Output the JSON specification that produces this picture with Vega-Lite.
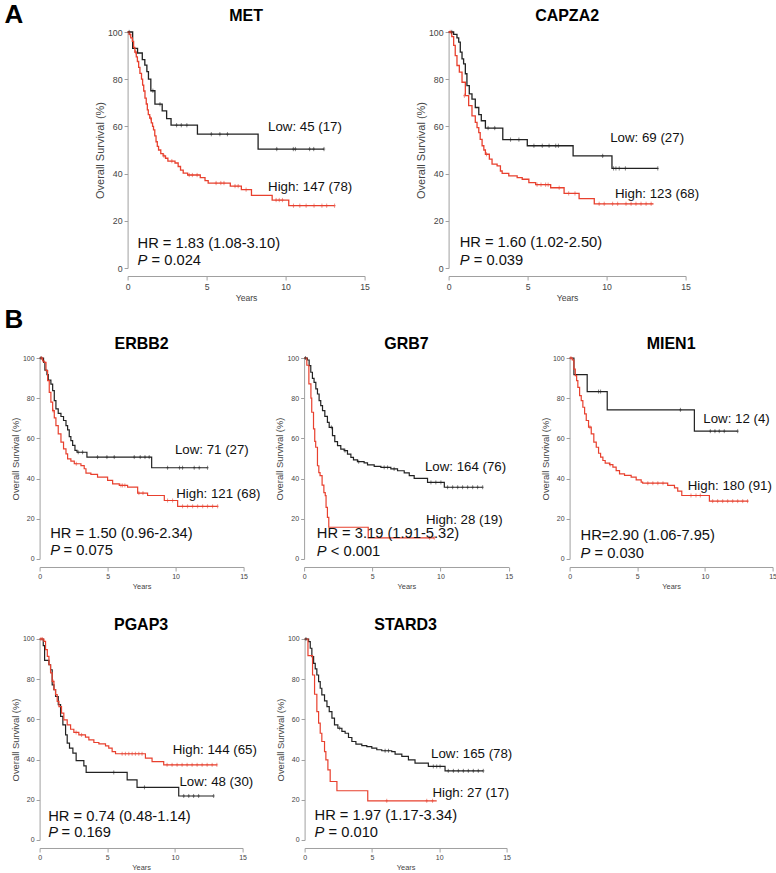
{
"$schema":"https://vega.github.io/schema/vega-lite/v6.json",
"padding":{"left":3.6,"top":2,"right":0,"bottom":0},
"config":{"font":"Liberation Sans","view":{"stroke":null},
"axis":{"grid":false,"domainColor":"#a0a0a0","tickColor":"#a0a0a0","labelColor":"#444","titleColor":"#444","titleFontWeight":"normal","tickSize":4,"labelPadding":2,"labelFlush":false,"labelOverlap":false,"domainWidth":1,"tickWidth":1},
"title":{"fontSize":16,"fontWeight":"bold","color":"#000"}},
"datasets":{
"km":[
{"p":"MET","g":"Low","t":0,"s":100},{"p":"MET","g":"Low","t":0.32,"s":93.1},{"p":"MET","g":"Low","t":0.63,"s":91.1},{"p":"MET","g":"Low","t":0.93,"s":88.3},{"p":"MET","g":"Low","t":1.09,"s":86},{"p":"MET","g":"Low","t":1.22,"s":83.2},{"p":"MET","g":"Low","t":1.32,"s":80},{"p":"MET","g":"Low","t":1.47,"s":75.1},{"p":"MET","g":"Low","t":1.73,"s":69.4},{"p":"MET","g":"Low","t":2.19,"s":66.6},{"p":"MET","g":"Low","t":2.47,"s":63.3},{"p":"MET","g":"Low","t":2.75,"s":60.5},{"p":"MET","g":"Low","t":4.42,"s":56.7},{"p":"MET","g":"Low","t":8.26,"s":50.4},{"p":"MET","g":"Low","t":12.43,"s":50.4},
{"p":"MET","g":"High","t":0,"s":100},{"p":"MET","g":"High","t":0.1,"s":99},{"p":"MET","g":"High","t":0.2,"s":97.5},{"p":"MET","g":"High","t":0.3,"s":96},{"p":"MET","g":"High","t":0.38,"s":93.5},{"p":"MET","g":"High","t":0.46,"s":91.5},{"p":"MET","g":"High","t":0.55,"s":89.5},{"p":"MET","g":"High","t":0.62,"s":87.5},{"p":"MET","g":"High","t":0.7,"s":85},{"p":"MET","g":"High","t":0.78,"s":82.5},{"p":"MET","g":"High","t":0.88,"s":80},{"p":"MET","g":"High","t":0.95,"s":77.5},{"p":"MET","g":"High","t":1.02,"s":75},{"p":"MET","g":"High","t":1.1,"s":72},{"p":"MET","g":"High","t":1.18,"s":69.5},{"p":"MET","g":"High","t":1.25,"s":67},{"p":"MET","g":"High","t":1.31,"s":65},{"p":"MET","g":"High","t":1.4,"s":63.5},{"p":"MET","g":"High","t":1.5,"s":61.5},{"p":"MET","g":"High","t":1.58,"s":60},{"p":"MET","g":"High","t":1.64,"s":58.5},{"p":"MET","g":"High","t":1.72,"s":56},{"p":"MET","g":"High","t":1.8,"s":53.5},{"p":"MET","g":"High","t":1.88,"s":51.5},{"p":"MET","g":"High","t":1.96,"s":50},{"p":"MET","g":"High","t":2.1,"s":48.5},{"p":"MET","g":"High","t":2.25,"s":47.5},{"p":"MET","g":"High","t":2.4,"s":46.5},{"p":"MET","g":"High","t":2.55,"s":45.3},{"p":"MET","g":"High","t":3.0,"s":44.5},{"p":"MET","g":"High","t":3.2,"s":43},{"p":"MET","g":"High","t":3.35,"s":41.5},{"p":"MET","g":"High","t":3.52,"s":40.2},{"p":"MET","g":"High","t":3.8,"s":39.4},{"p":"MET","g":"High","t":4.6,"s":38.3},{"p":"MET","g":"High","t":4.9,"s":37},{"p":"MET","g":"High","t":5.1,"s":36},{"p":"MET","g":"High","t":6.5,"s":34.7},{"p":"MET","g":"High","t":7.2,"s":33.2},{"p":"MET","g":"High","t":7.84,"s":30.8},{"p":"MET","g":"High","t":9.15,"s":28.8},{"p":"MET","g":"High","t":10.2,"s":26.4},{"p":"MET","g":"High","t":13.1,"s":26.4},
{"p":"CAPZA2","g":"Low","t":0,"s":100},{"p":"CAPZA2","g":"Low","t":0.32,"s":99},{"p":"CAPZA2","g":"Low","t":0.53,"s":97.5},{"p":"CAPZA2","g":"Low","t":0.64,"s":95.7},{"p":"CAPZA2","g":"Low","t":0.74,"s":91.5},{"p":"CAPZA2","g":"Low","t":0.85,"s":88.6},{"p":"CAPZA2","g":"Low","t":0.95,"s":86.5},{"p":"CAPZA2","g":"Low","t":1.06,"s":82.3},{"p":"CAPZA2","g":"Low","t":1.16,"s":77.3},{"p":"CAPZA2","g":"Low","t":1.31,"s":73.8},{"p":"CAPZA2","g":"Low","t":1.48,"s":71.6},{"p":"CAPZA2","g":"Low","t":1.69,"s":68},{"p":"CAPZA2","g":"Low","t":1.91,"s":65},{"p":"CAPZA2","g":"Low","t":2.07,"s":62.4},{"p":"CAPZA2","g":"Low","t":2.33,"s":59.3},{"p":"CAPZA2","g":"Low","t":3.43,"s":54.4},{"p":"CAPZA2","g":"Low","t":4.98,"s":51.8},{"p":"CAPZA2","g":"Low","t":7.88,"s":47.5},{"p":"CAPZA2","g":"Low","t":10.34,"s":42.2},{"p":"CAPZA2","g":"Low","t":13.24,"s":42.2},
{"p":"CAPZA2","g":"High","t":0,"s":100},{"p":"CAPZA2","g":"High","t":0.2,"s":98},{"p":"CAPZA2","g":"High","t":0.32,"s":94.3},{"p":"CAPZA2","g":"High","t":0.42,"s":90},{"p":"CAPZA2","g":"High","t":0.53,"s":85.8},{"p":"CAPZA2","g":"High","t":0.68,"s":83},{"p":"CAPZA2","g":"High","t":0.85,"s":78.7},{"p":"CAPZA2","g":"High","t":1.06,"s":73},{"p":"CAPZA2","g":"High","t":1.27,"s":68.8},{"p":"CAPZA2","g":"High","t":1.48,"s":64.5},{"p":"CAPZA2","g":"High","t":1.69,"s":61.7},{"p":"CAPZA2","g":"High","t":1.8,"s":59.5},{"p":"CAPZA2","g":"High","t":1.91,"s":57.4},{"p":"CAPZA2","g":"High","t":2.0,"s":54.5},{"p":"CAPZA2","g":"High","t":2.12,"s":51.8},{"p":"CAPZA2","g":"High","t":2.23,"s":50},{"p":"CAPZA2","g":"High","t":2.33,"s":48.2},{"p":"CAPZA2","g":"High","t":2.58,"s":46.1},{"p":"CAPZA2","g":"High","t":2.75,"s":44},{"p":"CAPZA2","g":"High","t":3.07,"s":43.3},{"p":"CAPZA2","g":"High","t":3.28,"s":41.1},{"p":"CAPZA2","g":"High","t":3.39,"s":40.1},{"p":"CAPZA2","g":"High","t":3.81,"s":39},{"p":"CAPZA2","g":"High","t":4.34,"s":38.3},{"p":"CAPZA2","g":"High","t":4.66,"s":37.6},{"p":"CAPZA2","g":"High","t":5.08,"s":36.2},{"p":"CAPZA2","g":"High","t":5.51,"s":35.3},{"p":"CAPZA2","g":"High","t":6.46,"s":34},{"p":"CAPZA2","g":"High","t":7.31,"s":31.6},{"p":"CAPZA2","g":"High","t":8.26,"s":29.4},{"p":"CAPZA2","g":"High","t":9.22,"s":27.2},{"p":"CAPZA2","g":"High","t":12.97,"s":27.2},
{"p":"ERBB2","g":"Low","t":0,"s":100},{"p":"ERBB2","g":"Low","t":0.29,"s":97.8},{"p":"ERBB2","g":"Low","t":0.39,"s":94},{"p":"ERBB2","g":"Low","t":0.54,"s":91.7},{"p":"ERBB2","g":"Low","t":0.64,"s":89},{"p":"ERBB2","g":"Low","t":0.83,"s":87},{"p":"ERBB2","g":"Low","t":0.96,"s":83.8},{"p":"ERBB2","g":"Low","t":1.08,"s":78.8},{"p":"ERBB2","g":"Low","t":1.2,"s":74.7},{"p":"ERBB2","g":"Low","t":1.37,"s":72.5},{"p":"ERBB2","g":"Low","t":1.57,"s":70.9},{"p":"ERBB2","g":"Low","t":1.76,"s":68.9},{"p":"ERBB2","g":"Low","t":1.94,"s":66.4},{"p":"ERBB2","g":"Low","t":2.06,"s":64.2},{"p":"ERBB2","g":"Low","t":2.18,"s":60.9},{"p":"ERBB2","g":"Low","t":2.3,"s":58.9},{"p":"ERBB2","g":"Low","t":2.43,"s":56.5},{"p":"ERBB2","g":"Low","t":2.6,"s":54},{"p":"ERBB2","g":"Low","t":2.75,"s":53.1},{"p":"ERBB2","g":"Low","t":3.48,"s":50.7},{"p":"ERBB2","g":"Low","t":8.24,"s":45.4},{"p":"ERBB2","g":"Low","t":12.35,"s":45.4},
{"p":"ERBB2","g":"High","t":0,"s":100},{"p":"ERBB2","g":"High","t":0.22,"s":98.5},{"p":"ERBB2","g":"High","t":0.34,"s":97.8},{"p":"ERBB2","g":"High","t":0.47,"s":93.7},{"p":"ERBB2","g":"High","t":0.59,"s":88.7},{"p":"ERBB2","g":"High","t":0.71,"s":82.9},{"p":"ERBB2","g":"High","t":0.83,"s":78},{"p":"ERBB2","g":"High","t":0.96,"s":73.8},{"p":"ERBB2","g":"High","t":1.08,"s":70.2},{"p":"ERBB2","g":"High","t":1.2,"s":66.4},{"p":"ERBB2","g":"High","t":1.37,"s":62.3},{"p":"ERBB2","g":"High","t":1.57,"s":58.1},{"p":"ERBB2","g":"High","t":1.76,"s":54.8},{"p":"ERBB2","g":"High","t":1.94,"s":52.3},{"p":"ERBB2","g":"High","t":2.06,"s":49.8},{"p":"ERBB2","g":"High","t":2.3,"s":48.7},{"p":"ERBB2","g":"High","t":2.55,"s":47.4},{"p":"ERBB2","g":"High","t":3.04,"s":46.5},{"p":"ERBB2","g":"High","t":3.28,"s":44.9},{"p":"ERBB2","g":"High","t":3.41,"s":42.7},{"p":"ERBB2","g":"High","t":3.77,"s":42.1},{"p":"ERBB2","g":"High","t":4.26,"s":40.7},{"p":"ERBB2","g":"High","t":5.0,"s":39.1},{"p":"ERBB2","g":"High","t":5.37,"s":37.4},{"p":"ERBB2","g":"High","t":5.86,"s":36.6},{"p":"ERBB2","g":"High","t":6.47,"s":35.8},{"p":"ERBB2","g":"High","t":7.21,"s":32.8},{"p":"ERBB2","g":"High","t":7.94,"s":31.6},{"p":"ERBB2","g":"High","t":9.17,"s":29.1},{"p":"ERBB2","g":"High","t":10.15,"s":26.2},{"p":"ERBB2","g":"High","t":13.09,"s":26.2},
{"p":"GRB7","g":"Low","t":0,"s":100},{"p":"GRB7","g":"Low","t":0.24,"s":99},{"p":"GRB7","g":"Low","t":0.37,"s":96.2},{"p":"GRB7","g":"Low","t":0.49,"s":92.9},{"p":"GRB7","g":"Low","t":0.61,"s":89.9},{"p":"GRB7","g":"Low","t":0.73,"s":87.9},{"p":"GRB7","g":"Low","t":0.86,"s":84.6},{"p":"GRB7","g":"Low","t":0.98,"s":82.1},{"p":"GRB7","g":"Low","t":1.1,"s":78.8},{"p":"GRB7","g":"Low","t":1.22,"s":76.3},{"p":"GRB7","g":"Low","t":1.35,"s":73.8},{"p":"GRB7","g":"Low","t":1.52,"s":71},{"p":"GRB7","g":"Low","t":1.71,"s":68},{"p":"GRB7","g":"Low","t":1.84,"s":65.5},{"p":"GRB7","g":"Low","t":2.08,"s":61.4},{"p":"GRB7","g":"Low","t":2.25,"s":58.4},{"p":"GRB7","g":"Low","t":2.45,"s":56.4},{"p":"GRB7","g":"Low","t":2.69,"s":54.7},{"p":"GRB7","g":"Low","t":2.94,"s":53.9},{"p":"GRB7","g":"Low","t":3.18,"s":52.2},{"p":"GRB7","g":"Low","t":3.43,"s":50.6},{"p":"GRB7","g":"Low","t":3.62,"s":49.3},{"p":"GRB7","g":"Low","t":3.91,"s":48.4},{"p":"GRB7","g":"Low","t":4.4,"s":47.8},{"p":"GRB7","g":"Low","t":4.65,"s":46.8},{"p":"GRB7","g":"Low","t":5.14,"s":46.1},{"p":"GRB7","g":"Low","t":5.63,"s":45.6},{"p":"GRB7","g":"Low","t":6.36,"s":44.8},{"p":"GRB7","g":"Low","t":6.85,"s":43.9},{"p":"GRB7","g":"Low","t":7.34,"s":42.8},{"p":"GRB7","g":"Low","t":7.71,"s":41.5},{"p":"GRB7","g":"Low","t":8.07,"s":40.1},{"p":"GRB7","g":"Low","t":9.05,"s":38.1},{"p":"GRB7","g":"Low","t":10.28,"s":35.7},{"p":"GRB7","g":"Low","t":13.09,"s":35.7},
{"p":"GRB7","g":"High","t":0,"s":100},{"p":"GRB7","g":"High","t":0.2,"s":96.4},{"p":"GRB7","g":"High","t":0.35,"s":87.1},{"p":"GRB7","g":"High","t":0.5,"s":80},{"p":"GRB7","g":"High","t":0.56,"s":73},{"p":"GRB7","g":"High","t":0.69,"s":64.7},{"p":"GRB7","g":"High","t":0.78,"s":58.5},{"p":"GRB7","g":"High","t":0.85,"s":55.6},{"p":"GRB7","g":"High","t":0.98,"s":46.4},{"p":"GRB7","g":"High","t":1.08,"s":43},{"p":"GRB7","g":"High","t":1.17,"s":41.5},{"p":"GRB7","g":"High","t":1.32,"s":36.8},{"p":"GRB7","g":"High","t":1.45,"s":33},{"p":"GRB7","g":"High","t":1.55,"s":31.5},{"p":"GRB7","g":"High","t":1.61,"s":25.7},{"p":"GRB7","g":"High","t":1.71,"s":20.7},{"p":"GRB7","g":"High","t":1.81,"s":15.8},{"p":"GRB7","g":"High","t":4.7,"s":10.5},{"p":"GRB7","g":"High","t":9.54,"s":10.5},
{"p":"MIEN1","g":"Low","t":0,"s":100},{"p":"MIEN1","g":"Low","t":0.32,"s":91.7},{"p":"MIEN1","g":"Low","t":1.3,"s":83.3},{"p":"MIEN1","g":"Low","t":2.78,"s":74.2},{"p":"MIEN1","g":"Low","t":9.22,"s":63.6},{"p":"MIEN1","g":"Low","t":12.42,"s":63.6},
{"p":"MIEN1","g":"High","t":0,"s":100},{"p":"MIEN1","g":"High","t":0.2,"s":99},{"p":"MIEN1","g":"High","t":0.32,"s":94.5},{"p":"MIEN1","g":"High","t":0.42,"s":91.2},{"p":"MIEN1","g":"High","t":0.52,"s":88.7},{"p":"MIEN1","g":"High","t":0.61,"s":85.4},{"p":"MIEN1","g":"High","t":0.74,"s":81.3},{"p":"MIEN1","g":"High","t":0.86,"s":78.8},{"p":"MIEN1","g":"High","t":0.98,"s":75.5},{"p":"MIEN1","g":"High","t":1.11,"s":72.2},{"p":"MIEN1","g":"High","t":1.23,"s":68.9},{"p":"MIEN1","g":"High","t":1.4,"s":65.6},{"p":"MIEN1","g":"High","t":1.6,"s":62.3},{"p":"MIEN1","g":"High","t":1.79,"s":58.1},{"p":"MIEN1","g":"High","t":1.97,"s":55.6},{"p":"MIEN1","g":"High","t":2.14,"s":52.6},{"p":"MIEN1","g":"High","t":2.29,"s":50.7},{"p":"MIEN1","g":"High","t":2.46,"s":49},{"p":"MIEN1","g":"High","t":2.63,"s":47.7},{"p":"MIEN1","g":"High","t":2.95,"s":47},{"p":"MIEN1","g":"High","t":3.2,"s":45.7},{"p":"MIEN1","g":"High","t":3.44,"s":44},{"p":"MIEN1","g":"High","t":3.69,"s":42.4},{"p":"MIEN1","g":"High","t":4.06,"s":41.6},{"p":"MIEN1","g":"High","t":4.55,"s":40.7},{"p":"MIEN1","g":"High","t":4.92,"s":39.4},{"p":"MIEN1","g":"High","t":5.29,"s":38.2},{"p":"MIEN1","g":"High","t":5.4,"s":37.7},{"p":"MIEN1","g":"High","t":7.25,"s":36.6},{"p":"MIEN1","g":"High","t":7.75,"s":35.4},{"p":"MIEN1","g":"High","t":7.99,"s":33.8},{"p":"MIEN1","g":"High","t":8.29,"s":31.6},{"p":"MIEN1","g":"High","t":10.33,"s":28.8},{"p":"MIEN1","g":"High","t":13.2,"s":28.8},
{"p":"PGAP3","g":"Low","t":0,"s":100},{"p":"PGAP3","g":"Low","t":0.27,"s":96.7},{"p":"PGAP3","g":"Low","t":0.37,"s":89.4},{"p":"PGAP3","g":"Low","t":0.69,"s":87.2},{"p":"PGAP3","g":"Low","t":0.81,"s":84.7},{"p":"PGAP3","g":"Low","t":0.93,"s":77.2},{"p":"PGAP3","g":"Low","t":1.06,"s":74.8},{"p":"PGAP3","g":"Low","t":1.18,"s":71.4},{"p":"PGAP3","g":"Low","t":1.38,"s":67.3},{"p":"PGAP3","g":"Low","t":1.55,"s":61.5},{"p":"PGAP3","g":"Low","t":1.72,"s":57.3},{"p":"PGAP3","g":"Low","t":1.92,"s":52.3},{"p":"PGAP3","g":"Low","t":2.04,"s":48.2},{"p":"PGAP3","g":"Low","t":2.21,"s":45.7},{"p":"PGAP3","g":"Low","t":2.46,"s":43.2},{"p":"PGAP3","g":"Low","t":2.7,"s":39.5},{"p":"PGAP3","g":"Low","t":3.27,"s":36.9},{"p":"PGAP3","g":"Low","t":3.44,"s":33.6},{"p":"PGAP3","g":"Low","t":6.47,"s":29.9},{"p":"PGAP3","g":"Low","t":7.2,"s":26.2},{"p":"PGAP3","g":"Low","t":10.28,"s":21.9},{"p":"PGAP3","g":"Low","t":12.86,"s":21.9},
{"p":"PGAP3","g":"High","t":0,"s":100},{"p":"PGAP3","g":"High","t":0.32,"s":98.8},{"p":"PGAP3","g":"High","t":0.44,"s":94.7},{"p":"PGAP3","g":"High","t":0.57,"s":91.4},{"p":"PGAP3","g":"High","t":0.69,"s":87.2},{"p":"PGAP3","g":"High","t":0.81,"s":83.1},{"p":"PGAP3","g":"High","t":0.93,"s":78.9},{"p":"PGAP3","g":"High","t":1.06,"s":74.8},{"p":"PGAP3","g":"High","t":1.18,"s":72.3},{"p":"PGAP3","g":"High","t":1.3,"s":69},{"p":"PGAP3","g":"High","t":1.43,"s":66.4},{"p":"PGAP3","g":"High","t":1.62,"s":63.1},{"p":"PGAP3","g":"High","t":1.79,"s":59.8},{"p":"PGAP3","g":"High","t":2.04,"s":57.3},{"p":"PGAP3","g":"High","t":2.29,"s":55.1},{"p":"PGAP3","g":"High","t":2.53,"s":53.5},{"p":"PGAP3","g":"High","t":2.9,"s":52.3},{"p":"PGAP3","g":"High","t":3.39,"s":51.2},{"p":"PGAP3","g":"High","t":3.64,"s":49.8},{"p":"PGAP3","g":"High","t":4.01,"s":48.5},{"p":"PGAP3","g":"High","t":4.38,"s":47.8},{"p":"PGAP3","g":"High","t":4.87,"s":46.8},{"p":"PGAP3","g":"High","t":5.11,"s":45.7},{"p":"PGAP3","g":"High","t":5.36,"s":44},{"p":"PGAP3","g":"High","t":5.61,"s":42.9},{"p":"PGAP3","g":"High","t":7.82,"s":40.7},{"p":"PGAP3","g":"High","t":8.31,"s":39},{"p":"PGAP3","g":"High","t":9.17,"s":37.4},{"p":"PGAP3","g":"High","t":13.1,"s":37.4},
{"p":"STARD3","g":"Low","t":0,"s":100},{"p":"STARD3","g":"Low","t":0.3,"s":98.7},{"p":"STARD3","g":"Low","t":0.42,"s":95.4},{"p":"STARD3","g":"Low","t":0.54,"s":91.2},{"p":"STARD3","g":"Low","t":0.67,"s":87.9},{"p":"STARD3","g":"Low","t":0.79,"s":85.1},{"p":"STARD3","g":"Low","t":0.91,"s":82.1},{"p":"STARD3","g":"Low","t":1.04,"s":78.8},{"p":"STARD3","g":"Low","t":1.16,"s":75.5},{"p":"STARD3","g":"Low","t":1.28,"s":72.2},{"p":"STARD3","g":"Low","t":1.48,"s":69.2},{"p":"STARD3","g":"Low","t":1.66,"s":66.4},{"p":"STARD3","g":"Low","t":1.83,"s":63.9},{"p":"STARD3","g":"Low","t":2.03,"s":60.6},{"p":"STARD3","g":"Low","t":2.22,"s":57.3},{"p":"STARD3","g":"Low","t":2.47,"s":55.6},{"p":"STARD3","g":"Low","t":2.77,"s":54},{"p":"STARD3","g":"Low","t":3.01,"s":53.1},{"p":"STARD3","g":"Low","t":3.26,"s":51},{"p":"STARD3","g":"Low","t":3.51,"s":49},{"p":"STARD3","g":"Low","t":3.81,"s":47.7},{"p":"STARD3","g":"Low","t":4.25,"s":47},{"p":"STARD3","g":"Low","t":4.62,"s":46.5},{"p":"STARD3","g":"Low","t":4.99,"s":45.7},{"p":"STARD3","g":"Low","t":5.36,"s":44.9},{"p":"STARD3","g":"Low","t":5.73,"s":44.4},{"p":"STARD3","g":"Low","t":6.47,"s":44},{"p":"STARD3","g":"Low","t":6.72,"s":42.7},{"p":"STARD3","g":"Low","t":7.22,"s":41.6},{"p":"STARD3","g":"Low","t":7.71,"s":39.9},{"p":"STARD3","g":"Low","t":8.2,"s":38.2},{"p":"STARD3","g":"Low","t":9.19,"s":36.6},{"p":"STARD3","g":"Low","t":10.43,"s":34.4},{"p":"STARD3","g":"Low","t":13.27,"s":34.4},
{"p":"STARD3","g":"High","t":0,"s":100},{"p":"STARD3","g":"High","t":0.25,"s":91.7},{"p":"STARD3","g":"High","t":0.59,"s":82.1},{"p":"STARD3","g":"High","t":0.74,"s":72.5},{"p":"STARD3","g":"High","t":0.91,"s":63.9},{"p":"STARD3","g":"High","t":1.04,"s":58.1},{"p":"STARD3","g":"High","t":1.16,"s":53.1},{"p":"STARD3","g":"High","t":1.28,"s":49},{"p":"STARD3","g":"High","t":1.48,"s":44},{"p":"STARD3","g":"High","t":1.58,"s":39.9},{"p":"STARD3","g":"High","t":1.73,"s":34.9},{"p":"STARD3","g":"High","t":1.9,"s":29.1},{"p":"STARD3","g":"High","t":2.4,"s":24.5},{"p":"STARD3","g":"High","t":4.69,"s":19.5},{"p":"STARD3","g":"High","t":9.81,"s":19.5}
],
"cen":[
{"p":"MET","g":"Low","t":0.1,"s":100},{"p":"MET","g":"Low","t":1.6,"s":75.1},{"p":"MET","g":"Low","t":2.05,"s":69.4},{"p":"MET","g":"Low","t":3.1,"s":60.5},{"p":"MET","g":"Low","t":3.4,"s":60.5},{"p":"MET","g":"Low","t":3.75,"s":60.5},{"p":"MET","g":"Low","t":5.3,"s":56.7},{"p":"MET","g":"Low","t":5.84,"s":56.7},{"p":"MET","g":"Low","t":6.32,"s":56.7},{"p":"MET","g":"Low","t":9.44,"s":50.4},{"p":"MET","g":"Low","t":10.49,"s":50.4},{"p":"MET","g":"Low","t":10.62,"s":50.4},{"p":"MET","g":"Low","t":11.52,"s":50.4},{"p":"MET","g":"Low","t":11.78,"s":50.4},{"p":"MET","g":"Low","t":12.43,"s":50.4},
{"p":"MET","g":"High","t":0.15,"s":99},{"p":"MET","g":"High","t":0.5,"s":91.5},{"p":"MET","g":"High","t":1.45,"s":63.5},{"p":"MET","g":"High","t":2.3,"s":47.5},{"p":"MET","g":"High","t":2.8,"s":45.3},{"p":"MET","g":"High","t":3.9,"s":39.4},{"p":"MET","g":"High","t":4.1,"s":39.4},{"p":"MET","g":"High","t":4.4,"s":39.4},{"p":"MET","g":"High","t":5.6,"s":36},{"p":"MET","g":"High","t":5.9,"s":36},{"p":"MET","g":"High","t":6.1,"s":36},{"p":"MET","g":"High","t":6.8,"s":34.7},{"p":"MET","g":"High","t":7.0,"s":34.7},{"p":"MET","g":"High","t":7.5,"s":33.2},{"p":"MET","g":"High","t":9.4,"s":28.8},{"p":"MET","g":"High","t":9.6,"s":28.8},{"p":"MET","g":"High","t":9.8,"s":28.8},{"p":"MET","g":"High","t":10.5,"s":26.4},{"p":"MET","g":"High","t":10.9,"s":26.4},{"p":"MET","g":"High","t":11.3,"s":26.4},{"p":"MET","g":"High","t":11.8,"s":26.4},{"p":"MET","g":"High","t":12.3,"s":26.4},{"p":"MET","g":"High","t":12.6,"s":26.4},{"p":"MET","g":"High","t":13.1,"s":26.4},
{"p":"CAPZA2","g":"Low","t":0.2,"s":100},{"p":"CAPZA2","g":"Low","t":2.5,"s":59.3},{"p":"CAPZA2","g":"Low","t":2.92,"s":59.3},{"p":"CAPZA2","g":"Low","t":3.92,"s":54.4},{"p":"CAPZA2","g":"Low","t":4.45,"s":54.4},{"p":"CAPZA2","g":"Low","t":5.4,"s":51.8},{"p":"CAPZA2","g":"Low","t":5.93,"s":51.8},{"p":"CAPZA2","g":"Low","t":6.36,"s":51.8},{"p":"CAPZA2","g":"Low","t":6.78,"s":51.8},{"p":"CAPZA2","g":"Low","t":6.95,"s":51.8},{"p":"CAPZA2","g":"Low","t":9.75,"s":47.5},{"p":"CAPZA2","g":"Low","t":10.44,"s":42.2},{"p":"CAPZA2","g":"Low","t":10.59,"s":42.2},{"p":"CAPZA2","g":"Low","t":10.8,"s":42.2},{"p":"CAPZA2","g":"Low","t":11.19,"s":42.2},{"p":"CAPZA2","g":"Low","t":13.24,"s":42.2},
{"p":"CAPZA2","g":"High","t":0.1,"s":100},{"p":"CAPZA2","g":"High","t":1.0,"s":73},{"p":"CAPZA2","g":"High","t":2.4,"s":48.2},{"p":"CAPZA2","g":"High","t":5.6,"s":35.3},{"p":"CAPZA2","g":"High","t":5.85,"s":35.3},{"p":"CAPZA2","g":"High","t":6.14,"s":35.3},{"p":"CAPZA2","g":"High","t":6.3,"s":35.3},{"p":"CAPZA2","g":"High","t":7.0,"s":34},{"p":"CAPZA2","g":"High","t":7.6,"s":31.6},{"p":"CAPZA2","g":"High","t":8.0,"s":31.6},{"p":"CAPZA2","g":"High","t":9.53,"s":27.2},{"p":"CAPZA2","g":"High","t":9.85,"s":27.2},{"p":"CAPZA2","g":"High","t":10.38,"s":27.2},{"p":"CAPZA2","g":"High","t":10.7,"s":27.2},{"p":"CAPZA2","g":"High","t":11.23,"s":27.2},{"p":"CAPZA2","g":"High","t":11.55,"s":27.2},{"p":"CAPZA2","g":"High","t":11.86,"s":27.2},{"p":"CAPZA2","g":"High","t":12.18,"s":27.2},{"p":"CAPZA2","g":"High","t":12.5,"s":27.2},{"p":"CAPZA2","g":"High","t":12.82,"s":27.2},
{"p":"ERBB2","g":"Low","t":0.1,"s":100},{"p":"ERBB2","g":"Low","t":2.84,"s":53.1},{"p":"ERBB2","g":"Low","t":3.16,"s":53.1},{"p":"ERBB2","g":"Low","t":4.26,"s":50.7},{"p":"ERBB2","g":"Low","t":4.95,"s":50.7},{"p":"ERBB2","g":"Low","t":5.49,"s":50.7},{"p":"ERBB2","g":"Low","t":6.96,"s":50.7},{"p":"ERBB2","g":"Low","t":7.4,"s":50.7},{"p":"ERBB2","g":"Low","t":7.75,"s":50.7},{"p":"ERBB2","g":"Low","t":8.06,"s":50.7},{"p":"ERBB2","g":"Low","t":9.41,"s":45.4},{"p":"ERBB2","g":"Low","t":10.29,"s":45.4},{"p":"ERBB2","g":"Low","t":10.51,"s":45.4},{"p":"ERBB2","g":"Low","t":11.37,"s":45.4},{"p":"ERBB2","g":"Low","t":11.74,"s":45.4},{"p":"ERBB2","g":"Low","t":12.35,"s":45.4},
{"p":"ERBB2","g":"High","t":0.15,"s":100},{"p":"ERBB2","g":"High","t":1.0,"s":73.8},{"p":"ERBB2","g":"High","t":2.7,"s":47.4},{"p":"ERBB2","g":"High","t":5.98,"s":36.6},{"p":"ERBB2","g":"High","t":6.1,"s":36.6},{"p":"ERBB2","g":"High","t":6.27,"s":36.6},{"p":"ERBB2","g":"High","t":7.3,"s":32.8},{"p":"ERBB2","g":"High","t":7.6,"s":32.8},{"p":"ERBB2","g":"High","t":9.41,"s":29.1},{"p":"ERBB2","g":"High","t":9.78,"s":29.1},{"p":"ERBB2","g":"High","t":10.51,"s":26.2},{"p":"ERBB2","g":"High","t":10.88,"s":26.2},{"p":"ERBB2","g":"High","t":11.25,"s":26.2},{"p":"ERBB2","g":"High","t":11.62,"s":26.2},{"p":"ERBB2","g":"High","t":11.99,"s":26.2},{"p":"ERBB2","g":"High","t":12.35,"s":26.2},{"p":"ERBB2","g":"High","t":12.72,"s":26.2},{"p":"ERBB2","g":"High","t":13.09,"s":26.2},
{"p":"GRB7","g":"Low","t":0.1,"s":100},{"p":"GRB7","g":"Low","t":2.0,"s":65.5},{"p":"GRB7","g":"Low","t":3.0,"s":53.9},{"p":"GRB7","g":"Low","t":4.0,"s":48.4},{"p":"GRB7","g":"Low","t":5.87,"s":45.6},{"p":"GRB7","g":"Low","t":6.12,"s":45.6},{"p":"GRB7","g":"Low","t":6.6,"s":44.8},{"p":"GRB7","g":"Low","t":9.3,"s":38.1},{"p":"GRB7","g":"Low","t":9.66,"s":38.1},{"p":"GRB7","g":"Low","t":10.03,"s":38.1},{"p":"GRB7","g":"Low","t":10.52,"s":35.7},{"p":"GRB7","g":"Low","t":10.89,"s":35.7},{"p":"GRB7","g":"Low","t":11.26,"s":35.7},{"p":"GRB7","g":"Low","t":11.62,"s":35.7},{"p":"GRB7","g":"Low","t":11.99,"s":35.7},{"p":"GRB7","g":"Low","t":12.36,"s":35.7},{"p":"GRB7","g":"Low","t":12.72,"s":35.7},{"p":"GRB7","g":"Low","t":13.09,"s":35.7},
{"p":"GRB7","g":"High","t":9.2,"s":10.5},{"p":"GRB7","g":"High","t":9.54,"s":10.5},
{"p":"MIEN1","g":"Low","t":2.14,"s":83.3},{"p":"MIEN1","g":"Low","t":2.29,"s":83.3},{"p":"MIEN1","g":"Low","t":8.19,"s":74.2},{"p":"MIEN1","g":"Low","t":10.4,"s":63.6},{"p":"MIEN1","g":"Low","t":10.74,"s":63.6},{"p":"MIEN1","g":"Low","t":11.06,"s":63.6},{"p":"MIEN1","g":"Low","t":11.43,"s":63.6},{"p":"MIEN1","g":"Low","t":12.42,"s":63.6},
{"p":"MIEN1","g":"High","t":0.1,"s":100},{"p":"MIEN1","g":"High","t":1.5,"s":65.6},{"p":"MIEN1","g":"High","t":3.0,"s":47},{"p":"MIEN1","g":"High","t":5.78,"s":37.7},{"p":"MIEN1","g":"High","t":6.15,"s":37.7},{"p":"MIEN1","g":"High","t":6.52,"s":37.7},{"p":"MIEN1","g":"High","t":6.9,"s":37.7},{"p":"MIEN1","g":"High","t":8.97,"s":31.6},{"p":"MIEN1","g":"High","t":9.34,"s":31.6},{"p":"MIEN1","g":"High","t":9.66,"s":31.6},{"p":"MIEN1","g":"High","t":10.57,"s":28.8},{"p":"MIEN1","g":"High","t":10.94,"s":28.8},{"p":"MIEN1","g":"High","t":11.31,"s":28.8},{"p":"MIEN1","g":"High","t":11.68,"s":28.8},{"p":"MIEN1","g":"High","t":12.05,"s":28.8},{"p":"MIEN1","g":"High","t":12.42,"s":28.8},{"p":"MIEN1","g":"High","t":12.79,"s":28.8},{"p":"MIEN1","g":"High","t":13.15,"s":28.8},
{"p":"PGAP3","g":"Low","t":5.48,"s":33.6},{"p":"PGAP3","g":"Low","t":7.75,"s":26.2},{"p":"PGAP3","g":"Low","t":10.65,"s":21.9},{"p":"PGAP3","g":"Low","t":11.02,"s":21.9},{"p":"PGAP3","g":"Low","t":11.38,"s":21.9},{"p":"PGAP3","g":"Low","t":11.75,"s":21.9},{"p":"PGAP3","g":"Low","t":12.86,"s":21.9},
{"p":"PGAP3","g":"High","t":0.1,"s":100},{"p":"PGAP3","g":"High","t":0.2,"s":100},{"p":"PGAP3","g":"High","t":1.0,"s":78.9},{"p":"PGAP3","g":"High","t":2.7,"s":53.5},{"p":"PGAP3","g":"High","t":3.1,"s":52.3},{"p":"PGAP3","g":"High","t":6.1,"s":42.9},{"p":"PGAP3","g":"High","t":6.34,"s":42.9},{"p":"PGAP3","g":"High","t":6.59,"s":42.9},{"p":"PGAP3","g":"High","t":6.84,"s":42.9},{"p":"PGAP3","g":"High","t":7.08,"s":42.9},{"p":"PGAP3","g":"High","t":7.33,"s":42.9},{"p":"PGAP3","g":"High","t":7.57,"s":42.9},{"p":"PGAP3","g":"High","t":9.42,"s":37.4},{"p":"PGAP3","g":"High","t":9.79,"s":37.4},{"p":"PGAP3","g":"High","t":10.16,"s":37.4},{"p":"PGAP3","g":"High","t":10.53,"s":37.4},{"p":"PGAP3","g":"High","t":10.9,"s":37.4},{"p":"PGAP3","g":"High","t":11.27,"s":37.4},{"p":"PGAP3","g":"High","t":11.64,"s":37.4},{"p":"PGAP3","g":"High","t":12.01,"s":37.4},{"p":"PGAP3","g":"High","t":12.38,"s":37.4},{"p":"PGAP3","g":"High","t":12.75,"s":37.4},{"p":"PGAP3","g":"High","t":13.1,"s":37.4},
{"p":"STARD3","g":"Low","t":0.1,"s":100},{"p":"STARD3","g":"Low","t":2.6,"s":55.6},{"p":"STARD3","g":"Low","t":5.98,"s":44.4},{"p":"STARD3","g":"Low","t":6.23,"s":44.4},{"p":"STARD3","g":"Low","t":9.56,"s":36.6},{"p":"STARD3","g":"Low","t":9.81,"s":36.6},{"p":"STARD3","g":"Low","t":10.06,"s":36.6},{"p":"STARD3","g":"Low","t":10.67,"s":34.4},{"p":"STARD3","g":"Low","t":11.05,"s":34.4},{"p":"STARD3","g":"Low","t":11.42,"s":34.4},{"p":"STARD3","g":"Low","t":11.79,"s":34.4},{"p":"STARD3","g":"Low","t":12.16,"s":34.4},{"p":"STARD3","g":"Low","t":12.53,"s":34.4},{"p":"STARD3","g":"Low","t":12.9,"s":34.4},{"p":"STARD3","g":"Low","t":13.27,"s":34.4},
{"p":"STARD3","g":"High","t":6.1,"s":19.5},{"p":"STARD3","g":"High","t":9.07,"s":19.5},{"p":"STARD3","g":"High","t":9.5,"s":19.5}
],
"lab":[
{"p":"MET","k":"grp","t":8.89,"s":59.8,"txt":"Low: 45 (17)"},{"p":"MET","k":"grp","t":8.89,"s":34.3,"txt":"High: 147 (78)"},{"p":"MET","k":"hr","t":0.63,"s":10.3,"txt":"HR = 1.83 (1.08-3.10)"},{"p":"MET","k":"P","t":0.63,"s":2.8,"txt":"P"},{"p":"MET","k":"hr","t":1.52,"s":2.8,"txt":"= 0.024"},
{"p":"CAPZA2","k":"grp","t":10.23,"s":54.9,"txt":"Low: 69 (27)"},{"p":"CAPZA2","k":"grp","t":10.53,"s":31.5,"txt":"High: 123 (68)"},{"p":"CAPZA2","k":"hr","t":0.7,"s":10.4,"txt":"HR = 1.60 (1.02-2.50)"},{"p":"CAPZA2","k":"P","t":0.7,"s":2.8,"txt":"P"},{"p":"CAPZA2","k":"hr","t":1.59,"s":2.8,"txt":"= 0.039"},
{"p":"ERBB2","k":"grp","t":9.95,"s":54,"txt":"Low: 71 (27)"},{"p":"ERBB2","k":"grp","t":10.05,"s":32.1,"txt":"High: 121 (68)"},{"p":"ERBB2","k":"hr","t":0.78,"s":12.3,"txt":"HR = 1.50 (0.96-2.34)"},{"p":"ERBB2","k":"P","t":0.78,"s":4,"txt":"P"},{"p":"ERBB2","k":"hr","t":1.76,"s":4,"txt":"= 0.075"},
{"p":"GRB7","k":"grp","t":8.86,"s":45.6,"txt":"Low: 164 (76)"},{"p":"GRB7","k":"grp","t":8.93,"s":19.6,"txt":"High: 28 (19)"},{"p":"GRB7","k":"hr","t":0.93,"s":12.3,"txt":"HR = 3.19 (1.91-5.32)"},{"p":"GRB7","k":"P","t":0.93,"s":3.6,"txt":"P"},{"p":"GRB7","k":"hr","t":1.96,"s":3.6,"txt":"< 0.001"},
{"p":"MIEN1","k":"grp","t":9.88,"s":69.7,"txt":"Low: 12 (4)"},{"p":"MIEN1","k":"grp","t":8.73,"s":36.1,"txt":"High: 180 (91)"},{"p":"MIEN1","k":"hr","t":0.81,"s":11.3,"txt":"HR=2.90 (1.06-7.95)"},{"p":"MIEN1","k":"P","t":0.81,"s":2.6,"txt":"P"},{"p":"MIEN1","k":"hr","t":1.84,"s":2.6,"txt":"= 0.030"},
{"p":"PGAP3","k":"grp","t":9.84,"s":44.9,"txt":"High: 144 (65)"},{"p":"PGAP3","k":"grp","t":10.33,"s":29.1,"txt":"Low: 48 (30)"},{"p":"PGAP3","k":"hr","t":0.64,"s":11.6,"txt":"HR = 0.74 (0.48-1.14)"},{"p":"PGAP3","k":"P","t":0.64,"s":3.3,"txt":"P"},{"p":"PGAP3","k":"hr","t":1.62,"s":3.3,"txt":"= 0.169"},
{"p":"STARD3","k":"grp","t":9.39,"s":42.7,"txt":"Low: 165 (78)"},{"p":"STARD3","k":"grp","t":9.49,"s":23.3,"txt":"High: 27 (17)"},{"p":"STARD3","k":"hr","t":0.74,"s":11.8,"txt":"HR = 1.97 (1.17-3.34)"},{"p":"STARD3","k":"P","t":0.74,"s":3.5,"txt":"P"},{"p":"STARD3","k":"hr","t":1.78,"s":3.5,"txt":"= 0.010"}
]},
"spacing":3,
"vconcat":[
{"hconcat":[
{"width":3.3,"height":236,"title":{"text":"A","anchor":"start","frame":"group","baseline":"alphabetic","offset":-17.4,"fontSize":26,"dx":-35},"data":{"values":[{}]},"mark":{"type":"text","text":""},"encoding":{}},
{"width":237,"height":236,"title":{"text":"MET","frame":"group","baseline":"alphabetic","offset":-8.7},
"encoding":{"x":{"field":"t","type":"quantitative","scale":{"domain":[0,15],"nice":false},"axis":{"values":[0,5,10,15],"title":"Years","offset":8,"labelFontSize":8.7,"titleFontSize":8.6,"titlePadding":3}},"y":{"field":"s","type":"quantitative","scale":{"domain":[0,100],"nice":false},"axis":{"values":[0,20,40,60,80,100],"title":"Overall Survival (%)","labelFontSize":8.8,"titleFontSize":11,"titlePadding":2,"tickSize":3.5}}},
"layer":[
{"data":{"name":"km"},"transform":[{"filter":"datum.p=='MET'"}],"mark":{"type":"line","interpolate":"step-after","strokeWidth":1.3},"encoding":{"color":{"field":"g","type":"nominal","scale":{"domain":["Low","High"],"range":["#222222","#e8402e"]},"legend":null}}},
{"data":{"name":"cen"},"transform":[{"filter":"datum.p=='MET'"}],"mark":{"type":"point","shape":"M0,-1V1M-0.6,0H0.6","size":18,"filled":false,"strokeWidth":0.8},"encoding":{"color":{"field":"g","type":"nominal","scale":{"domain":["Low","High"],"range":["#222222","#e8402e"]},"legend":null}}},
{"data":{"name":"lab"},"transform":[{"filter":"datum.p=='MET' && datum.k=='grp'"}],"mark":{"type":"text","align":"left","baseline":"middle","fontSize":13.3,"color":"#111"},"encoding":{"text":{"field":"txt"}}},
{"data":{"name":"lab"},"transform":[{"filter":"datum.p=='MET' && datum.k=='hr'"}],"mark":{"type":"text","align":"left","baseline":"middle","fontSize":14.7,"color":"#111"},"encoding":{"text":{"field":"txt"}}},
{"data":{"name":"lab"},"transform":[{"filter":"datum.p=='MET' && datum.k=='P'"}],"mark":{"type":"text","align":"left","baseline":"middle","fontSize":14.7,"fontStyle":"italic","color":"#111"},"encoding":{"text":{"field":"txt"}}}
]},
{"width":237,"height":236,"title":{"text":"CAPZA2","frame":"group","baseline":"alphabetic","offset":-8.7},
"encoding":{"x":{"field":"t","type":"quantitative","scale":{"domain":[0,15],"nice":false},"axis":{"values":[0,5,10,15],"title":"Years","offset":8,"labelFontSize":8.7,"titleFontSize":8.6,"titlePadding":3}},"y":{"field":"s","type":"quantitative","scale":{"domain":[0,100],"nice":false},"axis":{"values":[0,20,40,60,80,100],"title":"Overall Survival (%)","labelFontSize":8.8,"titleFontSize":11,"titlePadding":2,"tickSize":3.5}}},
"layer":[
{"data":{"name":"km"},"transform":[{"filter":"datum.p=='CAPZA2'"}],"mark":{"type":"line","interpolate":"step-after","strokeWidth":1.3},"encoding":{"color":{"field":"g","type":"nominal","scale":{"domain":["Low","High"],"range":["#222222","#e8402e"]},"legend":null}}},
{"data":{"name":"cen"},"transform":[{"filter":"datum.p=='CAPZA2'"}],"mark":{"type":"point","shape":"M0,-1V1M-0.6,0H0.6","size":18,"filled":false,"strokeWidth":0.8},"encoding":{"color":{"field":"g","type":"nominal","scale":{"domain":["Low","High"],"range":["#222222","#e8402e"]},"legend":null}}},
{"data":{"name":"lab"},"transform":[{"filter":"datum.p=='CAPZA2' && datum.k=='grp'"}],"mark":{"type":"text","align":"left","baseline":"middle","fontSize":13.3,"color":"#111"},"encoding":{"text":{"field":"txt"}}},
{"data":{"name":"lab"},"transform":[{"filter":"datum.p=='CAPZA2' && datum.k=='hr'"}],"mark":{"type":"text","align":"left","baseline":"middle","fontSize":14.7,"color":"#111"},"encoding":{"text":{"field":"txt"}}},
{"data":{"name":"lab"},"transform":[{"filter":"datum.p=='CAPZA2' && datum.k=='P'"}],"mark":{"type":"text","align":"left","baseline":"middle","fontSize":14.7,"fontStyle":"italic","color":"#111"},"encoding":{"text":{"field":"txt"}}}
]}
],"spacing":84,"bounds":"flush"},
{"title":{"text":"B","anchor":"start","frame":"bounds","baseline":"alphabetic","offset":-17.5,"fontSize":26,"dx":-6},
"spacing":26,
"vconcat":[
{"hconcat":[
{"width":204,"height":201,"title":{"text":"ERBB2","frame":"group","baseline":"alphabetic","offset":-11.3},
"encoding":{"x":{"field":"t","type":"quantitative","scale":{"domain":[0,15],"nice":false},"axis":{"values":[0,5,10,15],"title":"Years","offset":8,"labelFontSize":7,"titleFontSize":7.4,"titlePadding":3}},"y":{"field":"s","type":"quantitative","scale":{"domain":[0,100],"nice":false},"axis":{"values":[0,20,40,60,80,100],"title":"Overall Survival (%)","labelFontSize":7,"titleFontSize":9.4,"titlePadding":2,"tickSize":3.5}}},
"layer":[
{"data":{"name":"km"},"transform":[{"filter":"datum.p=='ERBB2'"}],"mark":{"type":"line","interpolate":"step-after","strokeWidth":1.2},"encoding":{"color":{"field":"g","type":"nominal","scale":{"domain":["Low","High"],"range":["#222222","#e8402e"]},"legend":null}}},
{"data":{"name":"cen"},"transform":[{"filter":"datum.p=='ERBB2'"}],"mark":{"type":"point","shape":"M0,-1V1M-0.6,0H0.6","size":16,"filled":false,"strokeWidth":0.8},"encoding":{"color":{"field":"g","type":"nominal","scale":{"domain":["Low","High"],"range":["#222222","#e8402e"]},"legend":null}}},
{"data":{"name":"lab"},"transform":[{"filter":"datum.p=='ERBB2' && datum.k=='grp'"}],"mark":{"type":"text","align":"left","baseline":"middle","fontSize":13.3,"color":"#111"},"encoding":{"text":{"field":"txt"}}},
{"data":{"name":"lab"},"transform":[{"filter":"datum.p=='ERBB2' && datum.k=='hr'"}],"mark":{"type":"text","align":"left","baseline":"middle","fontSize":14.7,"color":"#111"},"encoding":{"text":{"field":"txt"}}},
{"data":{"name":"lab"},"transform":[{"filter":"datum.p=='ERBB2' && datum.k=='P'"}],"mark":{"type":"text","align":"left","baseline":"middle","fontSize":14.7,"fontStyle":"italic","color":"#111"},"encoding":{"text":{"field":"txt"}}}
]},
{"width":204.6,"height":201,"title":{"text":"GRB7","frame":"group","baseline":"alphabetic","offset":-11.3},
"encoding":{"x":{"field":"t","type":"quantitative","scale":{"domain":[0,15],"nice":false},"axis":{"values":[0,5,10,15],"title":"Years","offset":8,"labelFontSize":7,"titleFontSize":7.4,"titlePadding":3}},"y":{"field":"s","type":"quantitative","scale":{"domain":[0,100],"nice":false},"axis":{"values":[0,20,40,60,80,100],"title":"Overall Survival (%)","labelFontSize":7,"titleFontSize":9.4,"titlePadding":2,"tickSize":3.5}}},
"layer":[
{"data":{"name":"km"},"transform":[{"filter":"datum.p=='GRB7'"}],"mark":{"type":"line","interpolate":"step-after","strokeWidth":1.2},"encoding":{"color":{"field":"g","type":"nominal","scale":{"domain":["Low","High"],"range":["#222222","#e8402e"]},"legend":null}}},
{"data":{"name":"cen"},"transform":[{"filter":"datum.p=='GRB7'"}],"mark":{"type":"point","shape":"M0,-1V1M-0.6,0H0.6","size":16,"filled":false,"strokeWidth":0.8},"encoding":{"color":{"field":"g","type":"nominal","scale":{"domain":["Low","High"],"range":["#222222","#e8402e"]},"legend":null}}},
{"data":{"name":"lab"},"transform":[{"filter":"datum.p=='GRB7' && datum.k=='grp'"}],"mark":{"type":"text","align":"left","baseline":"middle","fontSize":13.3,"color":"#111"},"encoding":{"text":{"field":"txt"}}},
{"data":{"name":"lab"},"transform":[{"filter":"datum.p=='GRB7' && datum.k=='hr'"}],"mark":{"type":"text","align":"left","baseline":"middle","fontSize":14.7,"color":"#111"},"encoding":{"text":{"field":"txt"}}},
{"data":{"name":"lab"},"transform":[{"filter":"datum.p=='GRB7' && datum.k=='P'"}],"mark":{"type":"text","align":"left","baseline":"middle","fontSize":14.7,"fontStyle":"italic","color":"#111"},"encoding":{"text":{"field":"txt"}}}
]},
{"width":203,"height":201,"title":{"text":"MIEN1","frame":"group","baseline":"alphabetic","offset":-11.3},
"encoding":{"x":{"field":"t","type":"quantitative","scale":{"domain":[0,15],"nice":false},"axis":{"values":[0,5,10,15],"title":"Years","offset":8,"labelFontSize":7,"titleFontSize":7.4,"titlePadding":3}},"y":{"field":"s","type":"quantitative","scale":{"domain":[0,100],"nice":false},"axis":{"values":[0,20,40,60,80,100],"title":"Overall Survival (%)","labelFontSize":7,"titleFontSize":9.4,"titlePadding":2,"tickSize":3.5}}},
"layer":[
{"data":{"name":"km"},"transform":[{"filter":"datum.p=='MIEN1'"}],"mark":{"type":"line","interpolate":"step-after","strokeWidth":1.2},"encoding":{"color":{"field":"g","type":"nominal","scale":{"domain":["Low","High"],"range":["#222222","#e8402e"]},"legend":null}}},
{"data":{"name":"cen"},"transform":[{"filter":"datum.p=='MIEN1'"}],"mark":{"type":"point","shape":"M0,-1V1M-0.6,0H0.6","size":16,"filled":false,"strokeWidth":0.8},"encoding":{"color":{"field":"g","type":"nominal","scale":{"domain":["Low","High"],"range":["#222222","#e8402e"]},"legend":null}}},
{"data":{"name":"lab"},"transform":[{"filter":"datum.p=='MIEN1' && datum.k=='grp'"}],"mark":{"type":"text","align":"left","baseline":"middle","fontSize":13.3,"color":"#111"},"encoding":{"text":{"field":"txt"}}},
{"data":{"name":"lab"},"transform":[{"filter":"datum.p=='MIEN1' && datum.k=='hr'"}],"mark":{"type":"text","align":"left","baseline":"middle","fontSize":14.7,"color":"#111"},"encoding":{"text":{"field":"txt"}}},
{"data":{"name":"lab"},"transform":[{"filter":"datum.p=='MIEN1' && datum.k=='P'"}],"mark":{"type":"text","align":"left","baseline":"middle","fontSize":14.7,"fontStyle":"italic","color":"#111"},"encoding":{"text":{"field":"txt"}}}
]}
],"spacing":60.5,"bounds":"flush"},
{"hconcat":[
{"width":203,"height":201,"title":{"text":"PGAP3","frame":"group","baseline":"alphabetic","offset":-11.3},
"encoding":{"x":{"field":"t","type":"quantitative","scale":{"domain":[0,15],"nice":false},"axis":{"values":[0,5,10,15],"title":"Years","offset":8,"labelFontSize":7,"titleFontSize":7.4,"titlePadding":3}},"y":{"field":"s","type":"quantitative","scale":{"domain":[0,100],"nice":false},"axis":{"values":[0,20,40,60,80,100],"title":"Overall Survival (%)","labelFontSize":7,"titleFontSize":9.4,"titlePadding":2,"tickSize":3.5}}},
"layer":[
{"data":{"name":"km"},"transform":[{"filter":"datum.p=='PGAP3'"}],"mark":{"type":"line","interpolate":"step-after","strokeWidth":1.2},"encoding":{"color":{"field":"g","type":"nominal","scale":{"domain":["Low","High"],"range":["#222222","#e8402e"]},"legend":null}}},
{"data":{"name":"cen"},"transform":[{"filter":"datum.p=='PGAP3'"}],"mark":{"type":"point","shape":"M0,-1V1M-0.6,0H0.6","size":16,"filled":false,"strokeWidth":0.8},"encoding":{"color":{"field":"g","type":"nominal","scale":{"domain":["Low","High"],"range":["#222222","#e8402e"]},"legend":null}}},
{"data":{"name":"lab"},"transform":[{"filter":"datum.p=='PGAP3' && datum.k=='grp'"}],"mark":{"type":"text","align":"left","baseline":"middle","fontSize":13.3,"color":"#111"},"encoding":{"text":{"field":"txt"}}},
{"data":{"name":"lab"},"transform":[{"filter":"datum.p=='PGAP3' && datum.k=='hr'"}],"mark":{"type":"text","align":"left","baseline":"middle","fontSize":14.7,"color":"#111"},"encoding":{"text":{"field":"txt"}}},
{"data":{"name":"lab"},"transform":[{"filter":"datum.p=='PGAP3' && datum.k=='P'"}],"mark":{"type":"text","align":"left","baseline":"middle","fontSize":14.7,"fontStyle":"italic","color":"#111"},"encoding":{"text":{"field":"txt"}}}
]},
{"width":202,"height":201,"title":{"text":"STARD3","frame":"group","baseline":"alphabetic","offset":-11.3},
"encoding":{"x":{"field":"t","type":"quantitative","scale":{"domain":[0,15],"nice":false},"axis":{"values":[0,5,10,15],"title":"Years","offset":8,"labelFontSize":7,"titleFontSize":7.4,"titlePadding":3}},"y":{"field":"s","type":"quantitative","scale":{"domain":[0,100],"nice":false},"axis":{"values":[0,20,40,60,80,100],"title":"Overall Survival (%)","labelFontSize":7,"titleFontSize":9.4,"titlePadding":2,"tickSize":3.5}}},
"layer":[
{"data":{"name":"km"},"transform":[{"filter":"datum.p=='STARD3'"}],"mark":{"type":"line","interpolate":"step-after","strokeWidth":1.2},"encoding":{"color":{"field":"g","type":"nominal","scale":{"domain":["Low","High"],"range":["#222222","#e8402e"]},"legend":null}}},
{"data":{"name":"cen"},"transform":[{"filter":"datum.p=='STARD3'"}],"mark":{"type":"point","shape":"M0,-1V1M-0.6,0H0.6","size":16,"filled":false,"strokeWidth":0.8},"encoding":{"color":{"field":"g","type":"nominal","scale":{"domain":["Low","High"],"range":["#222222","#e8402e"]},"legend":null}}},
{"data":{"name":"lab"},"transform":[{"filter":"datum.p=='STARD3' && datum.k=='grp'"}],"mark":{"type":"text","align":"left","baseline":"middle","fontSize":13.3,"color":"#111"},"encoding":{"text":{"field":"txt"}}},
{"data":{"name":"lab"},"transform":[{"filter":"datum.p=='STARD3' && datum.k=='hr'"}],"mark":{"type":"text","align":"left","baseline":"middle","fontSize":14.7,"color":"#111"},"encoding":{"text":{"field":"txt"}}},
{"data":{"name":"lab"},"transform":[{"filter":"datum.p=='STARD3' && datum.k=='P'"}],"mark":{"type":"text","align":"left","baseline":"middle","fontSize":14.7,"fontStyle":"italic","color":"#111"},"encoding":{"text":{"field":"txt"}}}
]}
],"spacing":62,"bounds":"flush"}
]}
]
}
